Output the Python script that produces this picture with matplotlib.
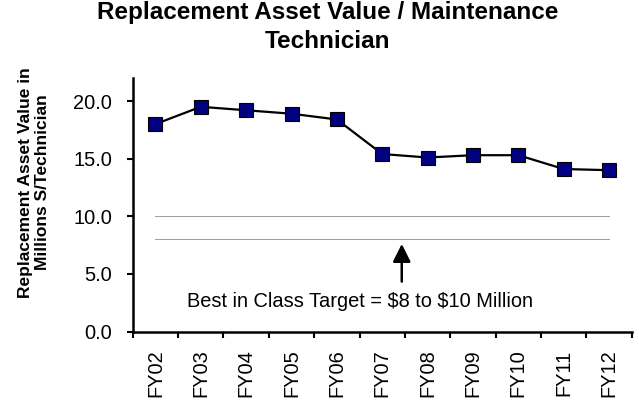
import matplotlib
matplotlib.use('Agg')
import matplotlib.pyplot as plt
import numpy as np

years = ['FY02', 'FY03', 'FY04', 'FY05', 'FY06', 'FY07',
         'FY08', 'FY09', 'FY10', 'FY11', 'FY12']
rav_per_tech = [18.0, 19.5, 19.2, 18.9, 18.4, 15.4, 15.1, 15.3, 15.3, 14.1, 14.0]
target_low = 8.0
target_high = 10.0
target_label = 'Best in Class Target = $8 to $10 Million'
title_lines = ['Replacement Asset Value / Maintenance', 'Technician']

plt.rcParams['font.family'] = ['Liberation Sans', 'DejaVu Sans']

fig = plt.figure(figsize=(6.39, 4.01), dpi=100)
ax = fig.add_axes([0.2077, 0.1733, 0.781, 0.6322])

x = np.arange(len(years))

# target band lines
ax.plot([x[0], x[-1]], [target_high, target_high], color='#8c8c8c', lw=0.6)
ax.plot([x[0], x[-1]], [target_low, target_low], color='#8c8c8c', lw=0.6)

ax.plot(x, rav_per_tech, color='black', lw=1.6, marker='s', markersize=10,
        markerfacecolor='#000080', markeredgecolor='black', markeredgewidth=0.8,
        zorder=3)

ax.annotate('', xy=(5.43, 7.6), xytext=(5.43, 4.33),
            arrowprops=dict(arrowstyle='-|>,head_length=0.6,head_width=0.3',
                            color='black', lw=1.8, mutation_scale=18,
                            shrinkA=0, shrinkB=0))
ax.text(4.52, 2.57, target_label.replace('$', r'\$'), ha='center', va='center',
        fontsize=14.4)

ax.set_xlim(-0.5, len(years) - 0.5)
ax.set_ylim(0, 22)
ax.set_yticks([0, 5, 10, 15, 20])
ax.set_yticklabels(['%.1f' % v for v in [0, 5, 10, 15, 20]], fontsize=14.4)
ax.tick_params(axis='y', direction='out', length=4.5, width=1.5, pad=10.5)

ax.set_xticks(x)
ax.set_xticklabels(years, rotation=90, fontsize=14.4)
ax.set_xticks(np.arange(len(years) + 1) - 0.5, minor=True)
ax.tick_params(axis='x', which='major', length=0, pad=13)
ax.tick_params(axis='x', which='minor', direction='out', length=4.5, width=1.5)

for s in ['top', 'right']:
    ax.spines[s].set_visible(False)
for s in ['left', 'bottom']:
    ax.spines[s].set_linewidth(1.8)

# title, two lines placed separately
fig.text(0.513, 0.9526, title_lines[0], ha='center', va='baseline',
         fontsize=17.5, fontweight='bold')
fig.text(0.513, 0.880, title_lines[1], ha='center', va='baseline',
         fontsize=17.5, fontweight='bold')
fig.text(0.053, 0.545, 'Replacement Asset Value in\nMillions S/Technician',
         ha='center', va='center', rotation=90, fontsize=12.5,
         fontweight='bold', linespacing=1.15)

fig.savefig('out.png', dpi=100)
